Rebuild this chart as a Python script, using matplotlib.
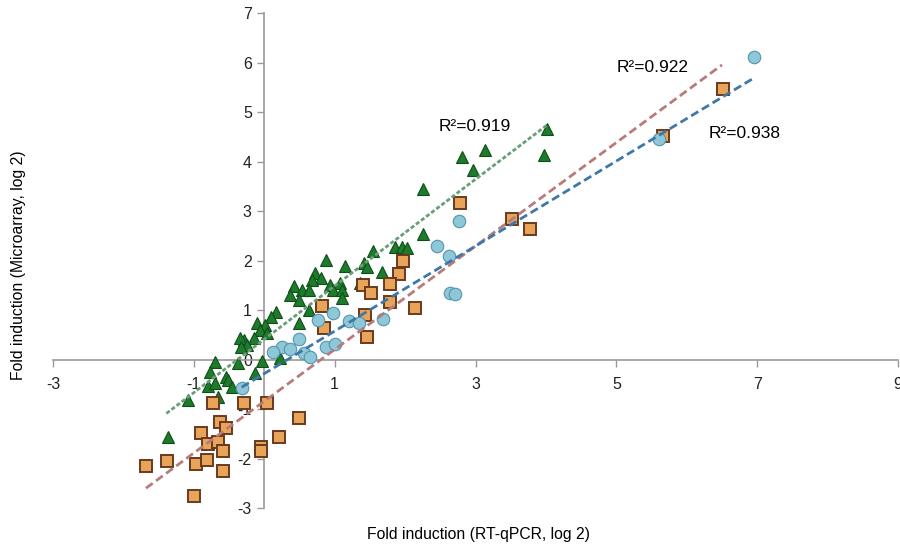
import matplotlib.pyplot as plt

plt.rcParams['font.family'] = ['Liberation Sans', 'DejaVu Sans']
plt.rcParams['axes.unicode_minus'] = False

# green triangles
tri_x = [4.02, 3.97, 2.81, 3.14, 2.96, 2.26, 2.25,
         1.54, 1.86, 1.95, 2.03,
         0.88, 1.14, 1.41, 1.46, 1.67,
         0.72, 0.80, 0.68,
         0.42, 0.53, 0.63,
         0.94, 1.07, 0.98, 1.10, 1.36,
         1.10, 0.49, 0.37,
         0.64, 0.50, 0.16, 0.09,
         -0.10, 0.01, -0.06, -0.15, -0.29, 0.04,
         -0.35, -0.25, -0.33,
         0.23, -0.03,
         -0.70, -0.38,
         -0.77, -0.55, -0.13,
         -0.80, -0.70, -0.52, -0.46,
         -1.08, -0.65,
         -1.37]
tri_y = [4.66, 4.14, 4.11, 4.24, 3.84, 3.45, 2.55,
         2.21, 2.28, 2.28, 2.26,
         2.02, 1.90, 1.95, 1.88, 1.77,
         1.75, 1.65, 1.62,
         1.49, 1.41, 1.41,
         1.52, 1.55, 1.41, 1.41, 1.55,
         1.25, 1.21, 1.31,
         1.01, 0.74, 0.96, 0.87,
         0.74, 0.71, 0.61, 0.44, 0.40, 0.54,
         0.44, 0.30, 0.27,
         0.03, -0.03,
         -0.05, -0.07,
         -0.24, -0.34, -0.27,
         -0.53, -0.47, -0.40, -0.54,
         -0.80, -0.74,
         -1.55]

# orange squares
sq_x = [6.51, 5.66, 3.52, 3.77, 2.78,
        1.97, 1.92, 1.79, 1.40, 1.51, 0.82, 1.78, 2.14,
        1.43, 0.85, 1.46,
        -0.73, -0.29, 0.04, 0.50, -0.63, -0.55, -0.90, 0.21,
        -0.80, -0.65, -0.59, -0.05, -0.05,
        -1.68, -1.38, -0.97, -0.81, -0.59, -1.00]
sq_y = [5.47, 4.53, 2.84, 2.64, 3.18,
        1.99, 1.73, 1.54, 1.52, 1.36, 1.10, 1.18, 1.04,
        0.90, 0.64, 0.46,
        -0.86, -0.86, -0.86, -1.18, -1.25, -1.37, -1.48, -1.55,
        -1.70, -1.65, -1.84, -1.75, -1.84,
        -2.15, -2.04, -2.11, -2.03, -2.24, -2.74]

# blue spheres
sph_x = [6.95, 5.60, 2.76, 2.46, 2.62, 2.64, 2.71,
         0.98, 0.77, 1.20, 1.34, 1.69,
         0.49, 0.87, 1.01, 0.25, 0.37, 0.13, 0.56, 0.65,
         -0.32]
sph_y = [6.13, 4.46, 2.81, 2.30, 2.10, 1.35, 1.33,
         0.94, 0.80, 0.78, 0.74, 0.82,
         0.43, 0.27, 0.32, 0.27, 0.23, 0.16, 0.15, 0.06,
         -0.56]

# trend line end points
green_fit_x = [-1.39, 4.02]
green_fit_y = [-1.08, 4.75]
red_fit_x = [-1.68, 6.50]
red_fit_y = [-2.59, 5.96]
blue_fit_x = [-0.32, 6.97]
blue_fit_y = [-0.55, 5.71]

xticks = [-3, -1, 1, 3, 5, 7, 9]
yticks = [-3, -2, -1, 0, 1, 2, 3, 4, 5, 6, 7]

fig = plt.figure(figsize=(9, 5.47), dpi=100)
ax = fig.add_axes([0.0589, 0.0704, 0.9389, 0.905])

ax.plot(tri_x, tri_y, linestyle='none', marker='^', markersize=9,
        markerfacecolor='#1e7a2c', markeredgecolor='#0e4f18', markeredgewidth=0.8, zorder=3)
ax.plot(sq_x, sq_y, linestyle='none', marker='s', markersize=8.5,
        markerfacecolor='#e8a55a', markeredgecolor='#6a3a1e', markeredgewidth=1.4, zorder=3)
ax.plot(sph_x, sph_y, linestyle='none', marker='o', markersize=9,
        markerfacecolor='#8ec7d8', markeredgecolor='#5495ac', markeredgewidth=0.8, zorder=3)

ax.plot(green_fit_x, green_fit_y, color='#6a9e78', linewidth=2, linestyle=(0, (1.5, 0.8)), zorder=4)
ax.plot(red_fit_x, red_fit_y, color='#b87b7b', linewidth=2, linestyle=(0, (3, 1.5)), zorder=4)
ax.plot(blue_fit_x, blue_fit_y, color='#3d78a8', linewidth=2, linestyle=(0, (3, 1.5)), zorder=4)

ax.text(2.47, 4.62, 'R²=0.919', fontsize=12.5)
ax.text(5.00, 5.82, 'R²=0.922', fontsize=12.5)
ax.text(6.31, 4.49, 'R²=0.938', fontsize=12.5)

ax.set_xlim(-3, 9)
ax.set_ylim(-3, 7)
ax.set_xticks(xticks)
ax.set_yticks(yticks)
ax.spines['left'].set_position(('data', 0))
ax.spines['bottom'].set_position(('data', 0))
ax.spines['right'].set_visible(False)
ax.spines['top'].set_visible(False)
for s in ['left', 'bottom']:
    ax.spines[s].set_color('#999999')
    ax.spines[s].set_linewidth(1.2)
ax.tick_params(axis='both', colors='#999999', labelcolor='#222222', labelsize=11.5, width=1, length=5)
ax.tick_params(axis='x', pad=7)
ax.tick_params(axis='y', pad=4)

fig.text(0.021, 1 - 265 / 547, 'Fold induction (Microarray, log 2)', rotation=90,
         ha='center', va='center', fontsize=11.3)
fig.text(478 / 900, 1 - 535 / 547, 'Fold induction (RT-qPCR, log 2)',
         ha='center', va='center', fontsize=11.3)

fig.savefig('out.png', dpi=100)
